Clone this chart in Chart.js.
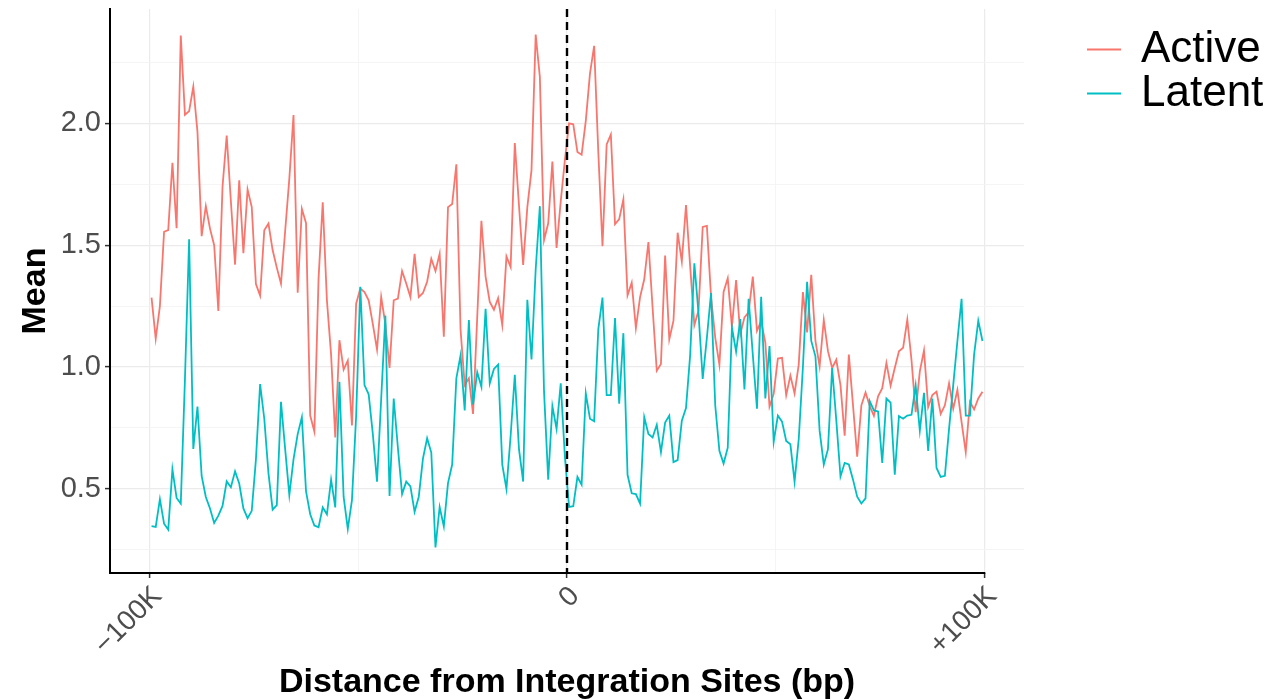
<!DOCTYPE html>
<html>
<head>
<meta charset="utf-8">
<title>Mean signal around integration sites</title>
<script src="https://cdn.jsdelivr.net/npm/chart.js@4/dist/chart.umd.min.js"></script>
<style>
  html, body { margin: 0; padding: 0; background: #ffffff; }
  canvas { display: block; }
</style>
</head>
<body>
<canvas id="chart" width="1286" height="700"></canvas>
<script>
// 1 kb bins, centred from -99.5 kb to +99.5 kb around the integration site
const binStart = -99500;
const binWidth = 1000;
const binCount = 200;

const activeMean = [
  1.285, 1.117, 1.25, 1.555, 1.562, 1.838, 1.57, 2.36, 2.035, 2.05, 2.15, 1.965, 1.537, 1.66, 1.568, 1.50, 1.23, 1.74, 1.95, 1.68, 1.42, 1.766, 1.467, 1.728, 1.656,
  1.34, 1.293, 1.561, 1.589, 1.48, 1.408, 1.342, 1.558, 1.773, 2.034, 1.305, 1.649, 1.59, 0.801, 0.735, 1.364, 1.676, 1.274, 1.051, 0.711, 1.11, 0.989, 1.026, 0.76, 1.26,
  1.322, 1.308, 1.274, 1.176, 1.072, 1.287, 1.176, 0.996, 1.274, 1.281, 1.394, 1.343, 1.287, 1.464, 1.287, 1.304, 1.35, 1.444, 1.394, 1.465, 1.124, 1.656, 1.669, 1.832, 1.155,
  0.926, 0.954, 0.808, 1.204, 1.60, 1.371, 1.267, 1.235, 1.283, 1.172, 1.454, 1.41, 1.919, 1.663, 1.419, 1.656, 1.808, 2.364, 2.19, 1.521, 1.59, 1.843, 1.489, 1.68, 1.85,
  2.0, 1.996, 1.882, 1.871, 2.01, 2.204, 2.318, 1.88, 1.496, 1.913, 1.954, 1.586, 1.607, 1.688, 1.294, 1.346, 1.16, 1.287, 1.36, 1.513, 1.243, 0.985, 1.013, 1.457, 1.114,
  1.19, 1.551, 1.433, 1.665, 1.413, 1.172, 1.232, 1.575, 1.579, 1.287, 1.121, 1.01, 1.308, 1.364, 1.165, 1.357, 1.135, 1.204, 1.225, 1.371, 1.149, 1.188, 1.1, 0.838, 0.89,
  1.035, 1.038, 0.885, 0.965, 0.892, 1.01, 1.308, 1.142, 1.378, 1.107, 1.003, 1.193, 1.065, 0.996, 1.03, 0.926, 0.718, 1.051, 0.843, 0.632, 0.843, 0.896, 0.84, 0.80, 0.88,
  0.913, 1.017, 0.924, 0.996, 1.065, 1.079, 1.194, 1.03, 0.815, 0.982, 1.068, 0.836, 0.885, 0.899, 0.808, 0.843, 0.933, 0.829, 0.906, 0.774, 0.651, 0.857, 0.826, 0.871, 0.899
];

const latentMean = [
  0.347, 0.344, 0.458, 0.357, 0.333, 0.581, 0.463, 0.44, 0.95, 1.524, 0.664, 0.838, 0.553, 0.467, 0.42, 0.36, 0.39, 0.43, 0.531, 0.507, 0.572, 0.522, 0.42, 0.38, 0.41,
  0.621, 0.93, 0.788, 0.565, 0.415, 0.433, 0.857, 0.663, 0.475, 0.621, 0.725, 0.794, 0.49, 0.396, 0.35, 0.343, 0.424, 0.396, 0.538, 0.424, 0.94, 0.468, 0.336, 0.454, 0.8,
  1.329, 0.926, 0.888, 0.725, 0.53, 0.87, 1.211, 0.471, 0.871, 0.669, 0.479, 0.53, 0.51, 0.406, 0.468, 0.624, 0.708, 0.649, 0.26, 0.426, 0.346, 0.524, 0.6, 0.954, 1.047,
  0.822, 1.193, 0.846, 0.979, 0.919, 1.239, 0.933, 0.992, 1.01, 0.6, 0.5, 0.718, 0.968, 0.663, 0.53, 1.276, 1.031, 1.4, 1.66, 0.899, 0.538, 0.84, 0.746, 0.933, 0.63,
  0.426, 0.429, 0.549, 0.517, 0.892, 0.788, 0.778, 1.156, 1.285, 0.885, 0.885, 1.201, 0.85, 1.139, 0.558, 0.482, 0.479, 0.44, 0.794, 0.725, 0.711, 0.763, 0.651, 0.772, 0.801,
  0.61, 0.618, 0.78, 0.832, 1.05, 1.426, 1.22, 0.951, 1.12, 1.304, 0.843, 0.656, 0.604, 0.669, 1.163, 1.063, 1.197, 0.908, 1.28, 1.051, 0.829, 1.288, 0.871, 1.086, 0.693,
  0.801, 0.776, 0.697, 0.683, 0.53, 0.704, 1.0, 1.35, 1.107, 1.044, 0.739, 0.6, 0.663, 0.996, 0.78, 0.551, 0.607, 0.6, 0.538, 0.468, 0.44, 0.461, 0.86, 0.822, 0.818,
  0.607, 0.871, 0.854, 0.558, 0.799, 0.788, 0.801, 0.804, 0.924, 0.739, 0.894, 0.656, 0.871, 0.586, 0.549, 0.554, 0.746, 0.926, 1.107, 1.28, 0.801, 0.801, 1.051, 1.19, 1.107
];

const seriesNames = ['Active', 'Latent'];
const seriesColors = ['#F8766D', '#00BFC4'];

const xTickValues = [-100000, 0, 100000];
const xTickLabels = ['\u2212100K', '0', '+100K'];
const xGridValues = [-100000, -50000, 0, 50000, 100000];
const yTickValues = [0.5, 1.0, 1.5, 2.0];
const yTickLabels = ['0.5', '1.0', '1.5', '2.0'];
const yGridValues = [0.25, 0.5, 0.75, 1.0, 1.25, 1.5, 1.75, 2.0, 2.25];

const xLimits = [-109450, 109450];
const yLimits = [0.155, 2.469];

const FONT = '"Liberation Sans", Arial, Helvetica, sans-serif';

const distance = Array.from({ length: binCount }, (_, i) => binStart + i * binWidth);
const toPoints = values => values.map((v, i) => ({ x: distance[i], y: v }));

const isMajor = (value, list) => list.some(t => Math.abs(t - value) < 1e-9);

// dashed reference line at the integration site, plus the capped x axis line
const sitePlugin = {
  id: 'siteMarker',
  afterDatasetsDraw(chart) {
    const { ctx, chartArea, scales } = chart;
    const x0 = scales.x.getPixelForValue(0);
    ctx.save();
    ctx.strokeStyle = '#000000';
    ctx.lineWidth = 2.4;
    ctx.setLineDash([8, 5]);
    ctx.beginPath();
    ctx.moveTo(x0, chartArea.top);
    ctx.lineTo(x0, chartArea.bottom);
    ctx.stroke();
    ctx.restore();
  },
  afterDraw(chart) {
    const { ctx, chartArea, scales } = chart;
    const xEnd = scales.x.getPixelForValue(xTickValues[xTickValues.length - 1]);
    ctx.save();
    ctx.strokeStyle = '#000000';
    ctx.lineWidth = 2;
    ctx.beginPath();
    ctx.moveTo(chartArea.left - 1, chartArea.bottom);
    ctx.lineTo(xEnd + 0.75, chartArea.bottom);
    ctx.stroke();
    ctx.restore();
  }
};

// legend drawn as short line keys with large labels at the right
const keyPlugin = {
  id: 'lineKeys',
  afterDraw(chart) {
    const { ctx } = chart;
    ctx.save();
    ctx.font = '44px ' + FONT;
    ctx.textBaseline = 'middle';
    ctx.textAlign = 'left';
    chart.data.datasets.forEach((ds, i) => {
      const y = 49.5 + i * 44;
      ctx.strokeStyle = ds.borderColor;
      ctx.lineWidth = 1.8;
      ctx.beginPath();
      ctx.moveTo(1087, y);
      ctx.lineTo(1121, y);
      ctx.stroke();
      ctx.fillStyle = '#000000';
      ctx.fillText(ds.label, 1141, y);
    });
    ctx.restore();
  }
};

new Chart(document.getElementById('chart'), {
  type: 'line',
  data: {
    datasets: [
      {
        label: seriesNames[0],
        data: toPoints(activeMean),
        borderColor: seriesColors[0],
        backgroundColor: seriesColors[0],
        borderWidth: 1.8,
        pointRadius: 0,
        tension: 0,
        order: 1
      },
      {
        label: seriesNames[1],
        data: toPoints(latentMean),
        borderColor: seriesColors[1],
        backgroundColor: seriesColors[1],
        borderWidth: 1.8,
        pointRadius: 0,
        tension: 0,
        order: 0
      }
    ]
  },
  options: {
    responsive: false,
    animation: false,
    events: [],
    layout: { padding: { top: 9, right: 262, bottom: 0, left: 0 } },
    plugins: {
      legend: { display: false },
      tooltip: { enabled: false }
    },
    scales: {
      x: {
        type: 'linear',
        min: xLimits[0],
        max: xLimits[1],
        afterFit(scale) {
          scale.height = 127;
          scale.paddingLeft = 0;
          scale.paddingRight = 0;
        },
        afterBuildTicks(scale) {
          scale.ticks = xGridValues.map(v => ({ value: v }));
        },
        ticks: {
          autoSkip: false,
          minRotation: 45,
          maxRotation: 45,
          padding: 2,
          labelOffset: 8,
          color: '#4D4D4D',
          font: { family: FONT, size: 28 },
          callback(value) {
            const k = xTickValues.findIndex(t => Math.abs(t - value) < 1e-6);
            return k >= 0 ? xTickLabels[k] : '';
          }
        },
        grid: {
          drawTicks: true,
          tickLength: 5,
          color: ctx => isMajor(ctx.tick.value, xTickValues) ? '#EBEBEB' : '#F2F2F2',
          lineWidth: ctx => isMajor(ctx.tick.value, xTickValues) ? 1.2 : 0.8,
          tickColor: ctx => isMajor(ctx.tick.value, xTickValues) ? '#333333' : 'rgba(0,0,0,0)',
          tickWidth: 1.5
        },
        border: { display: false },
        title: {
          display: true,
          text: 'Distance from Integration Sites (bp)',
          color: '#000000',
          font: { family: FONT, size: 34, weight: 'bold', lineHeight: 1 },
          padding: { top: 0, bottom: 0 }
        }
      },
      y: {
        type: 'linear',
        min: yLimits[0],
        max: yLimits[1],
        afterFit(scale) {
          scale.width = 110;
          scale.paddingTop = 0;
          scale.paddingBottom = 0;
        },
        afterBuildTicks(scale) {
          scale.ticks = yGridValues.map(v => ({ value: v }));
        },
        ticks: {
          padding: 4,
          color: '#4D4D4D',
          font: { family: FONT, size: 29 },
          callback(value) {
            const k = yTickValues.findIndex(t => Math.abs(t - value) < 1e-9);
            return k >= 0 ? yTickLabels[k] : '';
          }
        },
        grid: {
          drawTicks: true,
          tickLength: 5,
          color: ctx => isMajor(ctx.tick.value, yTickValues) ? '#EBEBEB' : '#F2F2F2',
          lineWidth: ctx => isMajor(ctx.tick.value, yTickValues) ? 1.2 : 0.8,
          tickColor: ctx => isMajor(ctx.tick.value, yTickValues) ? '#333333' : 'rgba(0,0,0,0)',
          tickWidth: 1.5
        },
        border: { display: true, color: '#000000', width: 2 },
        title: {
          display: true,
          text: 'Mean',
          color: '#000000',
          font: { family: FONT, size: 34, weight: 'bold', lineHeight: 1 },
          padding: { top: 19, bottom: 0 }
        }
      }
    }
  },
  plugins: [sitePlugin, keyPlugin]
});
</script>
</body>
</html>
